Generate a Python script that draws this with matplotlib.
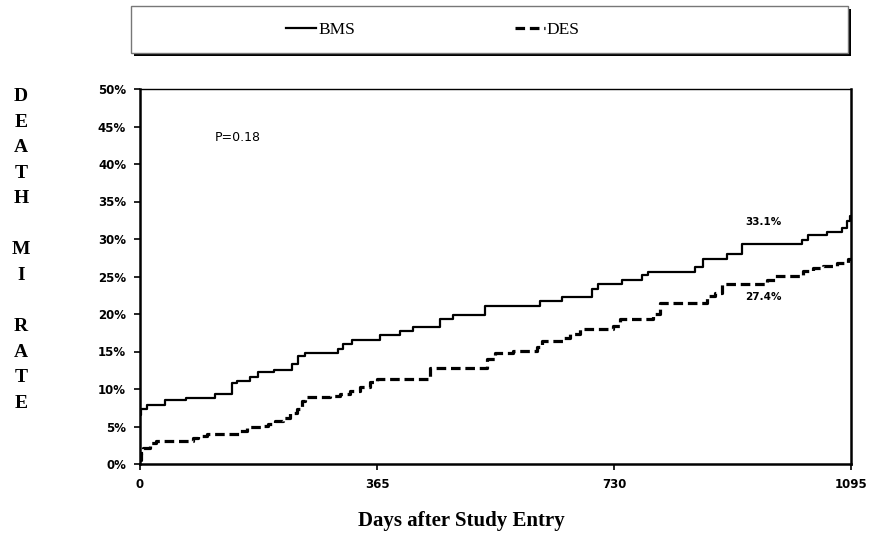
import matplotlib
matplotlib.use("Agg")
from matplotlib import pyplot as plt
from matplotlib.patches import Rectangle
from matplotlib.lines import Line2D
from matplotlib.ticker import PercentFormatter

# step curves (day of change, rate in %)
bms_days = [0, 1, 11, 38, 71, 115, 142, 149, 169, 182, 206, 234, 243, 254, 305, 313,
            326, 370, 400, 420, 462, 482, 531, 616, 650, 696, 705, 742, 773, 782, 855,
            867, 904, 927, 1020, 1029, 1058, 1081, 1089, 1094, 1095]
bms_rate = [6.5, 7.3, 7.9, 8.5, 8.8, 9.4, 10.8, 11.1, 11.6, 12.3, 12.6, 13.3, 14.4, 14.8,
            15.3, 16.0, 16.5, 17.2, 17.7, 18.3, 19.4, 19.9, 21.1, 21.7, 22.3, 23.3, 24.0,
            24.5, 25.2, 25.6, 26.3, 27.4, 28.0, 29.3, 29.9, 30.5, 31.0, 31.5, 32.4, 33.1, 33.1]

des_days = [0, 1, 5, 15, 25, 82, 89, 103, 154, 165, 188, 197, 208, 220, 231, 242, 249,
            254, 293, 308, 323, 339, 354, 365, 447, 534, 547, 574, 611, 619, 651, 662,
            678, 728, 739, 790, 801, 873, 886, 896, 966, 978, 1021, 1036, 1052, 1073,
            1090, 1095]
des_rate = [0.5, 1.5, 2.2, 2.8, 3.1, 3.5, 3.7, 4.0, 4.4, 4.9, 5.1, 5.4, 5.7, 6.2, 6.8,
            7.3, 8.4, 9.0, 9.1, 9.4, 9.8, 10.3, 10.9, 11.4, 12.8, 14.0, 14.8, 15.1, 15.6,
            16.4, 16.8, 17.4, 18.0, 18.4, 19.3, 20.0, 21.5, 22.4, 22.8, 24.0, 24.6, 25.1,
            25.7, 26.2, 26.4, 26.8, 27.4, 27.4]

x_ticks = [0, 365, 730, 1095]
y_ticks = [0, 5, 10, 15, 20, 25, 30, 35, 40, 45, 50]

W, H = 871, 535
fig = plt.figure(figsize=(W / 100, H / 100), dpi=100)
ax = fig.add_axes([140 / W, 1 - 464 / H, (851 - 140) / W, (464 - 89) / H])

des_style = (0, (3, 1.5))
ax.step(bms_days, bms_rate, where="post", color="black", lw=1.6)
ax.step(des_days, des_rate, where="post", color="black", lw=2.3, linestyle=des_style)

ax.set_xlim(0, 1095)
ax.set_ylim(0, 50)
ax.set_xticks(x_ticks)
ax.set_yticks(y_ticks)
ax.yaxis.set_major_formatter(PercentFormatter(decimals=0))
ax.tick_params(direction="out", length=4, width=1.2, labelsize=8.5)
for lab in ax.get_xticklabels() + ax.get_yticklabels():
    lab.set_family("DejaVu Sans")
    lab.set_weight("bold")
ax.tick_params(axis="y", pad=6)
ax.tick_params(axis="x", pad=6)
for side in ["left", "bottom", "right"]:
    ax.spines[side].set_linewidth(1.8)
ax.spines["top"].set_linewidth(1.0)

ax.text(115, 43.5, "P=0.18", fontsize=9, family="DejaVu Sans", va="center")
ax.text(932, 32.3, "33.1%", fontsize=7.5, family="DejaVu Sans", weight="bold", va="center")
ax.text(932, 22.2, "27.4%", fontsize=7.5, family="DejaVu Sans", weight="bold", va="center")

fig.text(461 / W, 1 - 521 / H, "Days after Study Entry", ha="center", va="center",
         fontsize=15, family="Liberation Serif", weight="bold")
fig.text(21 / W, 1 - 250 / H, "D\nE\nA\nT\nH\n\nM\nI\n\nR\nA\nT\nE", ha="center",
         va="center", fontsize=14, family="Liberation Serif", weight="bold",
         linespacing=1.66, multialignment="center")

# legend frame with a shadow, drawn in figure pixels
fr = fig.transFigure
fig.patches.append(Rectangle((134 / W, 1 - 56 / H), (848 - 131) / W, 47 / H,
                             transform=fr, facecolor="black", edgecolor="none"))
fig.patches.append(Rectangle((131 / W, 1 - 53 / H), (848 - 131) / W, 47 / H,
                             transform=fr, facecolor="white", edgecolor="#777777", lw=1))
handles = [Line2D([], [], color="black", lw=1.6),
           Line2D([], [], color="black", lw=2.3, linestyle=des_style)]
fig.legend(handles, ["BMS", "DES"], loc="center", bbox_to_anchor=(433 / W, 1 - 30 / H),
           ncol=2, frameon=False, prop={"family": "Liberation Serif", "size": 12.5},
           handlelength=1.75, handletextpad=0.1, columnspacing=9.2)

fig.savefig("out.png", dpi=100)
